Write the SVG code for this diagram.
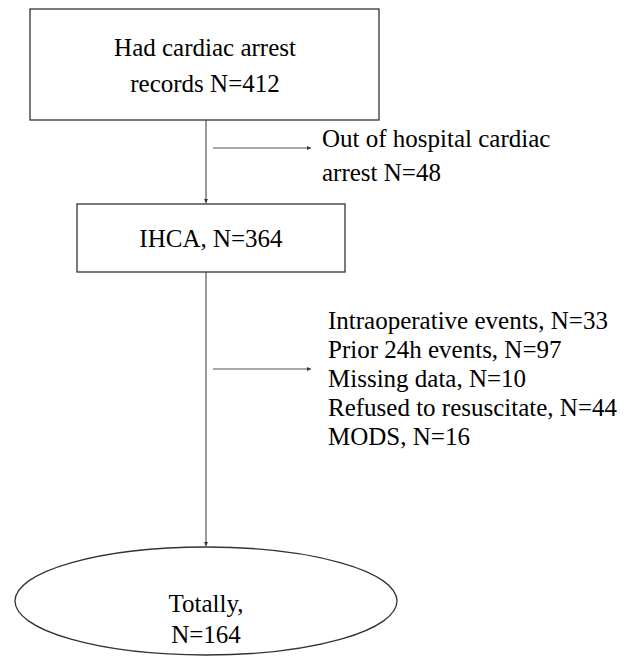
<svg xmlns="http://www.w3.org/2000/svg" width="631" height="658" viewBox="0 0 631 658">
<defs>
<style>
.box{fill:#fff;stroke:#333;stroke-width:1.3}
.ln{stroke:#555;stroke-width:1.2;fill:none}
text{font-family:"Liberation Serif","Times New Roman",serif;font-size:25px;fill:#000}
.c{text-anchor:middle}
</style>
<marker id="ah" viewBox="0 0 6 6" refX="6" refY="3" markerWidth="4" markerHeight="4" orient="auto" markerUnits="userSpaceOnUse"><path d="M0,0 L6,3 L0,6 z" fill="#333"/></marker>
</defs>
<rect width="631" height="658" fill="#fff"/>
<g id="connectors">
<line class="ln" x1="206" y1="120" x2="206" y2="203" marker-end="url(#ah)"/>
<line class="ln" x1="213" y1="148" x2="311" y2="148" marker-end="url(#ah)"/>
<line class="ln" x1="206" y1="272" x2="206" y2="546" marker-end="url(#ah)"/>
<line class="ln" x1="213" y1="369" x2="311" y2="369" marker-end="url(#ah)"/>
</g>
<g id="n1">
<rect class="box" x="30" y="9" width="349" height="111"/>
<text class="c" x="205" y="56">Had cardiac arrest</text>
<text class="c" x="205" y="92">records N=412</text>
</g>
<g id="n2">
<text x="322" y="147">Out of hospital cardiac</text>
<text x="322" y="181">arrest N=48</text>
</g>
<g id="n3">
<rect class="box" x="77" y="204" width="268" height="68"/>
<text class="c" x="211" y="247">IHCA, N=364</text>
</g>
<g id="n4">
<text x="328" y="329">Intraoperative events, N=33</text>
<text x="328" y="358">Prior 24h events, N=97</text>
<text x="328" y="387">Missing data, N=10</text>
<text x="328" y="416">Refused to resuscitate, N=44</text>
<text x="328" y="445">MODS, N=16</text>
</g>
<g id="n5">
<ellipse class="box" cx="206" cy="601" rx="191" ry="54"/>
<text class="c" x="206" y="612">Totally,</text>
<text class="c" x="206" y="643">N=164</text>
</g>
</svg>
